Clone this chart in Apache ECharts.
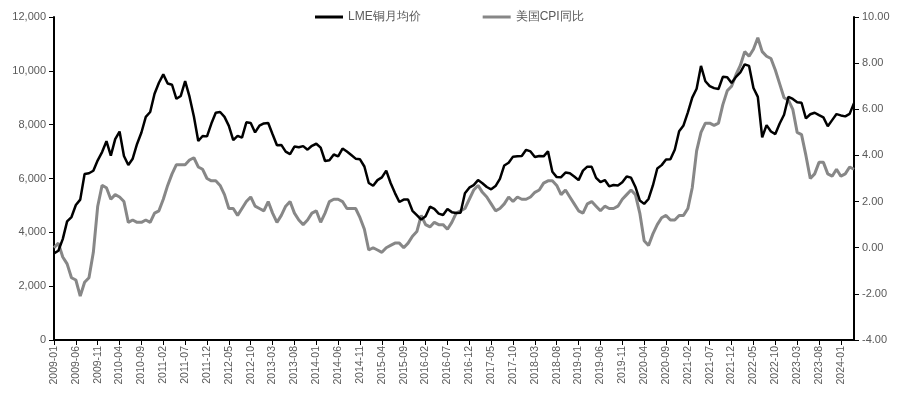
<!DOCTYPE html>
<html>
<head>
<meta charset="utf-8">
<script src="https://cdn.jsdelivr.net/npm/echarts@6/dist/echarts.min.js"></script>
<style>
html,body{margin:0;padding:0;background:#fff;}
#chart{width:900px;height:394px;}
</style>
</head>
<body>
<div id="chart"></div>
<script>
// Categories: monthly from 2009-01 to 2024-04
const startYear = 2009, endYear = 2024, endMonth = 4;
const months = [];
for (let y = startYear; y <= endYear; y++) {
  for (let m = 1; m <= 12; m++) {
    if (y === endYear && m > endMonth) break;
    months.push(y + '-' + (m < 10 ? '0' + m : '' + m));
  }
}

// LME copper monthly average price (USD/t)
const lme2009 = [3220, 3315, 3749, 4407, 4569, 5014, 5216, 6165, 6196, 6288, 6676, 6982];
const lme2010 = [7386, 6848, 7463, 7745, 6838, 6499, 6735, 7284, 7709, 8292, 8470, 9147];
const lme2011 = [9556, 9868, 9530, 9483, 8960, 9067, 9620, 9040, 8300, 7394, 7581, 7565];
const lme2012 = [8040, 8441, 8471, 8290, 7955, 7423, 7584, 7516, 8088, 8062, 7711, 7966];
const lme2013 = [8047, 8061, 7646, 7234, 7249, 7000, 6907, 7186, 7159, 7203, 7071, 7215];
const lme2014 = [7291, 7149, 6650, 6674, 6891, 6821, 7113, 7002, 6872, 6737, 6713, 6446];
const lme2015 = [5831, 5729, 5940, 6042, 6295, 5833, 5457, 5127, 5217, 5216, 4800, 4638];
const lme2016 = [4472, 4599, 4954, 4873, 4695, 4642, 4864, 4750, 4722, 4731, 5450, 5660];
const lme2017 = [5755, 5941, 5825, 5684, 5600, 5720, 5985, 6484, 6584, 6812, 6827, 6834];
const lme2018 = [7066, 7007, 6799, 6838, 6823, 7009, 6252, 6052, 6051, 6221, 6194, 6072];
const lme2019 = [5939, 6293, 6439, 6433, 6023, 5869, 5941, 5709, 5760, 5742, 5860, 6077];
const lme2020 = [6031, 5687, 5183, 5057, 5240, 5742, 6371, 6497, 6705, 6713, 7069, 7756];
const lme2021 = [7971, 8460, 9005, 9336, 10184, 9612, 9433, 9357, 9324, 9778, 9765, 9550];
const lme2022 = [9776, 9941, 10238, 10183, 9362, 9034, 7531, 7983, 7747, 7651, 8045, 8367];
const lme2023 = [9036, 8955, 8835, 8814, 8234, 8386, 8443, 8353, 8270, 7940, 8169, 8393];
const lme2024 = [8344, 8309, 8400, 8800];

// US CPI YoY (%)
const cpi2009 = [0.0, 0.2, -0.4, -0.7, -1.3, -1.4, -2.1, -1.5, -1.3, -0.2, 1.8, 2.7];
const cpi2010 = [2.6, 2.1, 2.3, 2.2, 2.0, 1.1, 1.2, 1.1, 1.1, 1.2, 1.1, 1.5];
const cpi2011 = [1.6, 2.1, 2.7, 3.2, 3.6, 3.6, 3.6, 3.8, 3.9, 3.5, 3.4, 3.0];
const cpi2012 = [2.9, 2.9, 2.7, 2.3, 1.7, 1.7, 1.4, 1.7, 2.0, 2.2, 1.8, 1.7];
const cpi2013 = [1.6, 2.0, 1.5, 1.1, 1.4, 1.8, 2.0, 1.5, 1.2, 1.0, 1.2, 1.5];
const cpi2014 = [1.6, 1.1, 1.5, 2.0, 2.1, 2.1, 2.0, 1.7, 1.7, 1.7, 1.3, 0.8];
const cpi2015 = [-0.1, 0.0, -0.1, -0.2, 0.0, 0.1, 0.2, 0.2, 0.0, 0.2, 0.5, 0.7];
const cpi2016 = [1.4, 1.0, 0.9, 1.1, 1.0, 1.0, 0.8, 1.1, 1.5, 1.6, 1.7, 2.1];
const cpi2017 = [2.5, 2.7, 2.4, 2.2, 1.9, 1.6, 1.7, 1.9, 2.2, 2.0, 2.2, 2.1];
const cpi2018 = [2.1, 2.2, 2.4, 2.5, 2.8, 2.9, 2.9, 2.7, 2.3, 2.5, 2.2, 1.9];
const cpi2019 = [1.6, 1.5, 1.9, 2.0, 1.8, 1.6, 1.8, 1.7, 1.7, 1.8, 2.1, 2.3];
const cpi2020 = [2.5, 2.3, 1.5, 0.3, 0.1, 0.6, 1.0, 1.3, 1.4, 1.2, 1.2, 1.4];
const cpi2021 = [1.4, 1.7, 2.6, 4.2, 5.0, 5.4, 5.4, 5.3, 5.4, 6.2, 6.8, 7.0];
const cpi2022 = [7.5, 7.9, 8.5, 8.3, 8.6, 9.1, 8.5, 8.3, 8.2, 7.7, 7.1, 6.5];
const cpi2023 = [6.4, 6.0, 5.0, 4.9, 4.0, 3.0, 3.2, 3.7, 3.7, 3.2, 3.1, 3.4];
const cpi2024 = [3.1, 3.2, 3.5, 3.4];

const lme = [].concat(lme2009, lme2010, lme2011, lme2012, lme2013, lme2014, lme2015, lme2016,
  lme2017, lme2018, lme2019, lme2020, lme2021, lme2022, lme2023, lme2024);
const cpi = [].concat(cpi2009, cpi2010, cpi2011, cpi2012, cpi2013, cpi2014, cpi2015, cpi2016,
  cpi2017, cpi2018, cpi2019, cpi2020, cpi2021, cpi2022, cpi2023, cpi2024);

const seriesNames = ['LME铜月均价', '美国CPI同比'];

const chart = echarts.init(document.getElementById('chart'), null, {renderer: 'canvas'});
const labelColor = '#595959';
const fontFamily = '"Liberation Sans", Arial, sans-serif';

chart.setOption({
  animation: false,
  backgroundColor: '#ffffff',
  textStyle: {fontFamily: fontFamily},
  legend: {
    left: 310,
    top: 6,
    itemWidth: 28,
    itemHeight: 3,
    itemGap: 62,
    icon: 'rect',
    textStyle: {color: labelColor, fontSize: 12, fontFamily: fontFamily},
    data: seriesNames
  },
  grid: {left: 54, right: 46, top: 17, bottom: 54, containLabel: false},
  xAxis: {
    type: 'category',
    data: months,
    boundaryGap: false,
    axisLine: {lineStyle: {color: '#000', width: 2}},
    axisTick: {show: true, interval: 4, length: 5, lineStyle: {color: '#000', width: 1}},
    axisLabel: {interval: 4, rotate: 90, color: labelColor, fontSize: 10.5, margin: 6, fontFamily: fontFamily},
    splitLine: {show: false}
  },
  yAxis: [
    {
      type: 'value',
      min: 0, max: 12000, interval: 2000,
      axisLine: {show: true, lineStyle: {color: '#000', width: 2}},
      axisTick: {show: true, length: 5, lineStyle: {color: '#000'}},
      axisLabel: {color: labelColor, fontSize: 11, margin: 8, fontFamily: fontFamily,
        formatter: v => v.toLocaleString('en-US')},
      splitLine: {show: false}
    },
    {
      type: 'value',
      min: -4, max: 10, interval: 2,
      position: 'right',
      axisLine: {show: true, lineStyle: {color: '#000', width: 2}},
      axisTick: {show: true, length: 5, lineStyle: {color: '#000'}},
      axisLabel: {color: labelColor, fontSize: 11, margin: 8, fontFamily: fontFamily,
        formatter: v => v.toFixed(2)},
      splitLine: {show: false}
    }
  ],
  series: [
    {
      name: seriesNames[0],
      type: 'line',
      yAxisIndex: 0,
      data: lme,
      showSymbol: false,
      symbol: 'none',
      lineStyle: {color: '#000000', width: 2.5},
      itemStyle: {color: '#000000'},
      z: 3
    },
    {
      name: seriesNames[1],
      type: 'line',
      yAxisIndex: 1,
      data: cpi,
      showSymbol: false,
      symbol: 'none',
      lineStyle: {color: '#878787', width: 3},
      itemStyle: {color: '#878787'},
      z: 2
    }
  ]
});
</script>
</body>
</html>
